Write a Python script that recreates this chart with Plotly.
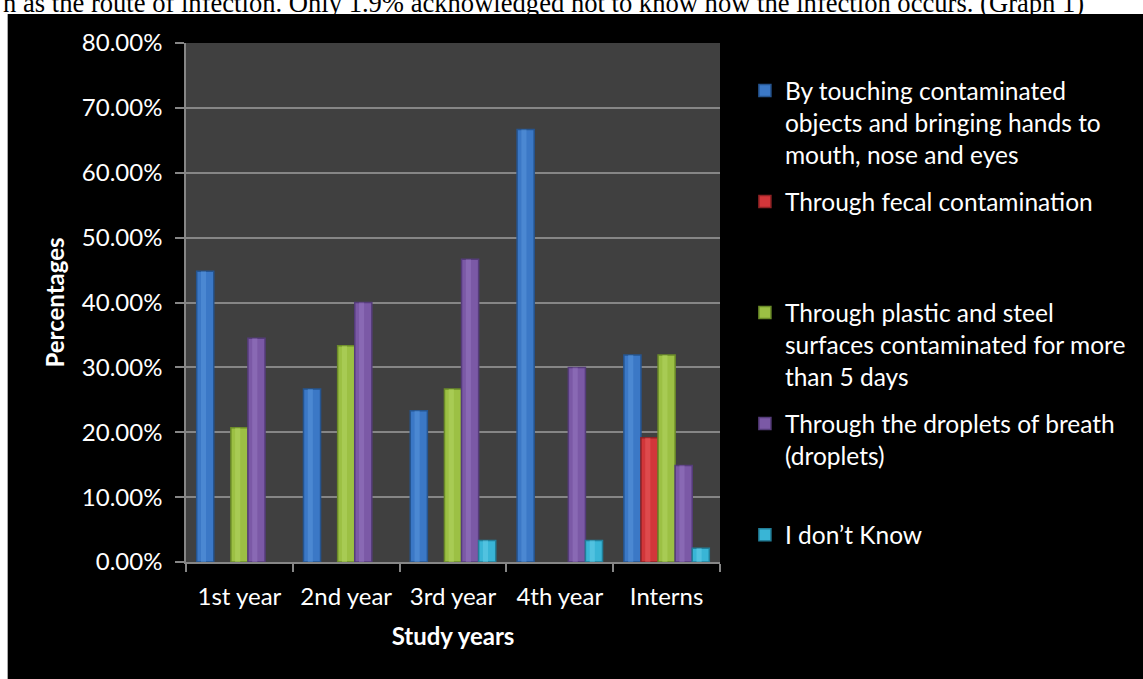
import plotly.graph_objects as go

# Study years on the x axis
categories = ["1st year", "2nd year", "3rd year", "4th year", "Interns"]

# Percent of respondents per route of transmission
touching = [44.83, 26.67, 23.33, 66.67, 31.91]
fecal = [0, 0, 0, 0, 19.15]
surfaces = [20.69, 33.33, 26.67, 0, 31.91]
droplets = [34.48, 40.00, 46.67, 30.00, 14.89]
dont_know = [0, 0, 3.33, 3.33, 2.13]

series_names = [
    "By touching contaminated<br>objects and bringing hands to<br>mouth, nose and eyes",
    "Through fecal contamination<br>\u00a0<br>\u00a0",
    "Through plastic and steel<br>surfaces contaminated for more<br>than 5 days",
    "Through the droplets of breath<br>(droplets)<br>\u00a0",
    "I don\u2019t Know",
]
series_values = [touching, fecal, surfaces, droplets, dont_know]
fill_colors = ["#3b78c6", "#d2363a", "#9cc044", "#7b59a6", "#39b5d6"]
edge_colors = ["#25548f", "#8e2224", "#6a8a28", "#553c7a", "#227e98"]
shine_colors = ["#5f9be0", "#ee6366", "#b9da68", "#9b7cc6", "#6fd3ee"]

header_text = ("n as the route of infection. Only 1.9% acknowledged not to know "
               "how the infection occurs. (Graph 1)")

FONT = "Lato"
slot = 0.16
start = -0.4


def drawn(vals):
    # empty categories get no column at all
    return [v if v else None for v in vals]


fig = go.Figure()
for i, (name, vals) in enumerate(zip(series_names, series_values)):
    fig.add_trace(go.Bar(
        x=categories, y=drawn(vals), name=name,
        width=slot, offset=start + i * slot,
        marker=dict(color=fill_colors[i], line=dict(color=edge_colors[i], width=1.5)),
        legendgroup=f"g{i}",
    ))
# lighter stripe giving each column a rounded look
for i, vals in enumerate(series_values):
    fig.add_trace(go.Bar(
        x=categories, y=drawn(vals), showlegend=False, hoverinfo="skip",
        width=slot * 0.3, offset=start + i * slot + slot * 0.25,
        marker=dict(color=shine_colors[i], opacity=0.45, line=dict(width=0)),
    ))

grid = "#868686"
fig.update_layout(
    width=1143, height=679,
    margin=dict(l=186, r=421, t=43, b=117),
    paper_bgcolor="black",
    plot_bgcolor="#404040",
    barmode="overlay",
    font=dict(family=FONT, color="white", size=24),
    showlegend=True,
    legend=dict(
        x=(747 - 186) / 536, xanchor="left",
        y=1 - (68 - 43) / 519, yanchor="top",
        bgcolor="rgba(0,0,0,0)",
        font=dict(family=FONT, size=24.5, color="white"),
        valign="top",
        tracegroupgap=12.5,
        traceorder="grouped",
    ),
    xaxis=dict(
        type="category",
        showline=True, linecolor=grid, linewidth=1.5,
        ticks="outside", tickson="boundaries", ticklen=8, tickcolor=grid, tickwidth=1.5,
        ticklabelstandoff=12,
        tickfont=dict(size=24),
        showgrid=False,
        title=dict(text="<b>Study years</b>", font=dict(size=24), standoff=20),
        range=[-0.5, 4.5],
    ),
    yaxis=dict(
        range=[0, 80], dtick=10,
        tickformat=".2f", ticksuffix="%",
        showline=True, linecolor=grid, linewidth=1.5,
        ticks="outside", ticklen=9, tickcolor=grid, tickwidth=1.5,
        ticklabelstandoff=8,
        tickfont=dict(size=24),
        showgrid=True, gridcolor=grid, gridwidth=1.5,
        zeroline=False,
        title=dict(text="<b>Percentages</b>", font=dict(size=24), standoff=10),
    ),
    shapes=[
        # white page strip above the chart
        dict(type="rect", xref="paper", yref="paper", layer="below",
             x0=-0.5, x1=2.0, y0=1 + (43 - 14) / 519, y1=1.3,
             fillcolor="white", line=dict(width=0)),
        # white page strip left of the chart
        dict(type="rect", xref="paper", yref="paper", layer="below",
             x0=-0.5, x1=(7 - 186) / 536, y0=-0.5, y1=1.3,
             fillcolor="white", line=dict(width=0)),
    ],
    annotations=[
        dict(text=header_text, xref="paper", yref="paper",
             x=(1089 - 186) / 536, xanchor="right",
             y=1 + (43 - 20) / 519, yanchor="bottom",
             showarrow=False,
             font=dict(family="Liberation Serif", size=26.6, color="black")),
    ],
)

fig.write_html("out.html")
